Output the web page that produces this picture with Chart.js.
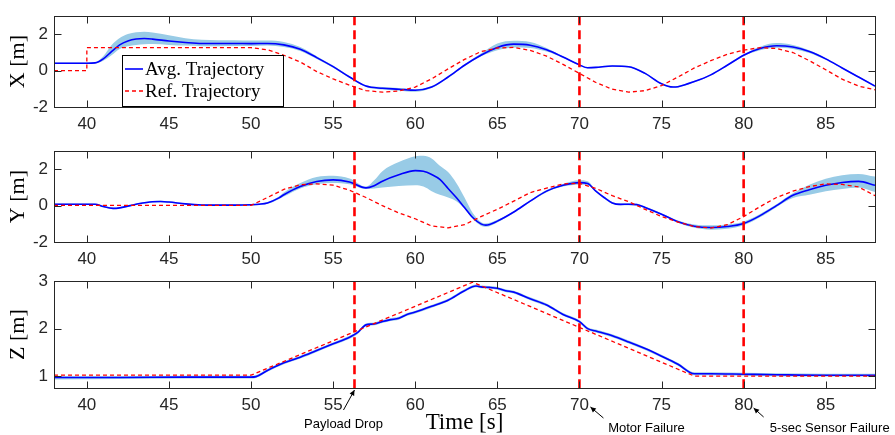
<!DOCTYPE html>
<html><head><meta charset="utf-8">
<script src="https://cdn.jsdelivr.net/npm/chart.js@4.4.1/dist/chart.umd.min.js"></script>
<style>
html,body{margin:0;padding:0;background:#fff;}
#wrap{position:relative;width:895px;height:435px;overflow:hidden;background:#fff;}
canvas{position:absolute;left:0;}
</style></head><body>
<div id="wrap">
<canvas id="cX" width="895" height="135" style="top:0px"></canvas>
<canvas id="cY" width="895" height="130" style="top:135px"></canvas>
<canvas id="cZ" width="895" height="170" style="top:265px"></canvas>
</div>
<script>
// ---------- DATA ----------
const seriesLabels = ['Avg. Trajectory', 'Ref. Trajectory'];
const axisTitles = ['X [m]', 'Y [m]', 'Z [m]'];
const timeTitle = 'Time [s]';
const timeTicks = [40, 45, 50, 55, 60, 65, 70, 75, 80, 85];
const xyTicks = [-2, 0, 2];
const zTicks = [1, 2, 3];
const eventTimes = [56.3, 70, 80];
const eventLabels = ['Payload Drop', 'Motor Failure', '5-sec Sensor Failure'];

// X panel
const xTime  = [38,40,40.5,41,41.5,42,42.5,43,43.5,44,45,46,47,48,49,50,51,52,53,54,55,56,57,58,59,60,61,62,63,64,65,66,67,68,69,70,70.5,71,72,73,74,75,75.7,76,77,78,79,80,81,82,83,84,85,86,87,88];
const xAvg   = [0.41,0.41,0.43,0.65,1.05,1.42,1.63,1.74,1.77,1.74,1.63,1.55,1.5,1.5,1.5,1.49,1.5,1.42,1.18,0.72,0.22,-0.35,-0.85,-0.97,-1.02,-1.08,-0.9,-0.35,0.3,0.85,1.28,1.46,1.4,1.15,0.75,0.32,0.16,0.18,0.26,0.22,-0.15,-0.72,-0.9,-0.88,-0.6,-0.23,0.3,0.85,1.22,1.37,1.3,1.05,0.65,0.15,-0.35,-0.85];
const xUpper = [0.45,0.45,0.47,0.8,1.4,1.8,2.02,2.12,2.15,2.1,1.95,1.78,1.7,1.68,1.68,1.66,1.66,1.58,1.3,0.8,0.28,-0.3,-0.8,-0.9,-0.95,-1.02,-0.85,-0.3,0.35,0.95,1.5,1.65,1.58,1.25,0.8,0.36,0.2,0.22,0.3,0.26,-0.11,-0.68,-0.86,-0.84,-0.56,-0.19,0.34,0.9,1.32,1.52,1.42,1.12,0.7,0.19,-0.31,-0.8];
const xLower = [0.37,0.37,0.39,0.55,0.85,1.2,1.35,1.42,1.45,1.47,1.42,1.38,1.35,1.35,1.36,1.36,1.38,1.3,1.08,0.64,0.16,-0.4,-0.9,-1.04,-1.1,-1.16,-0.96,-0.4,0.25,0.78,1.12,1.28,1.25,1.05,0.7,0.28,0.12,0.14,0.22,0.18,-0.19,-0.76,-0.94,-0.92,-0.64,-0.27,0.26,0.8,1.12,1.26,1.2,0.98,0.6,0.11,-0.39,-0.9];
const xRefTime = [38,40,40,50,51,52,53,54,55,56,57,58,59,60,61,62,63,64,65,66,67,68,69,70,71,72,73,74,75,76,77,78,79,80,81,82,83,84,85,86,87,88];
const xRef     = [0,0,1.27,1.27,1.15,0.85,0.48,-0.05,-0.45,-0.8,-1.1,-1.18,-1.12,-0.9,-0.45,0.1,0.62,1.05,1.25,1.28,1.12,0.8,0.35,-0.15,-0.65,-1.02,-1.18,-1.1,-0.82,-0.35,0.15,0.55,0.9,1.13,1.27,1.22,1.0,0.55,0.05,-0.47,-0.85,-1.05];

// Y panel
const yTime  = [38,40,40.5,41,41.6,42,43,44,44.5,45,46,47,48,49,50,50.5,51,51.7,52,53,54,55,56,57,57.5,58,59,60,60.5,61,61.5,62,62.5,63,63.5,64,64.3,65,66,67,68,69,70,70.5,71,71.5,72,72.5,73,73.5,74,75,76,77,78,79,80,81,82,83,84,85,86,87,88];
const yAvg   = [0.08,0.08,0.08,-0.05,-0.15,-0.12,0.08,0.22,0.23,0.2,0.1,0.04,0.03,0.03,0.05,0.08,0.15,0.43,0.6,1.05,1.33,1.42,1.3,0.98,1.1,1.35,1.7,1.93,1.9,1.72,1.45,0.95,0.45,-0.1,-0.65,-1.0,-1.07,-0.85,-0.35,0.25,0.8,1.12,1.27,1.22,0.8,0.45,0.15,0.07,0.08,0.06,-0.1,-0.47,-0.88,-1.13,-1.2,-1.15,-0.98,-0.55,0.0,0.57,0.88,1.12,1.28,1.34,1.12];
const yUpper = [0.12,0.12,0.12,-0.01,-0.11,-0.08,0.12,0.26,0.27,0.24,0.14,0.08,0.07,0.07,0.09,0.12,0.2,0.5,0.72,1.25,1.58,1.65,1.5,1.05,1.4,1.9,2.4,2.72,2.75,2.6,2.2,1.85,1.25,0.45,-0.4,-0.9,-0.98,-0.78,-0.3,0.3,0.86,1.2,1.4,1.35,0.85,0.5,0.2,0.12,0.13,0.11,-0.05,-0.42,-0.82,-1.04,-1.08,-1.03,-0.88,-0.46,0.08,0.68,1.15,1.48,1.68,1.75,1.6];
const yLower = [0.04,0.04,0.04,-0.09,-0.19,-0.16,0.04,0.18,0.19,0.16,0.06,0.0,-0.01,-0.01,0.01,0.04,0.1,0.36,0.5,0.95,1.18,1.25,1.18,0.92,0.95,1.0,1.08,1.12,1.05,0.8,0.6,0.45,0.25,-0.15,-0.72,-1.1,-1.16,-0.92,-0.4,0.2,0.74,1.05,1.15,1.12,0.75,0.4,0.1,0.02,0.03,0.01,-0.15,-0.52,-0.94,-1.22,-1.32,-1.27,-1.08,-0.64,-0.08,0.42,0.6,0.8,0.92,1.0,0.75];
const yRefTime = [38,50,51,52,53,54,55,56,57,58,59,60,61,62,63,64,65,66,67,68,69,70,71,72,73,74,75,76,77,78,79,80,81,82,83,84,85,86,87,88];
const yRef     = [0.02,0.02,0.45,0.9,1.15,1.2,1.13,0.85,0.45,0.0,-0.4,-0.72,-1.12,-1.22,-1.05,-0.6,-0.2,0.25,0.72,0.97,1.2,1.23,0.95,0.55,0.22,-0.2,-0.6,-0.9,-1.15,-1.23,-1.05,-0.6,-0.05,0.45,0.8,1.05,1.2,1.17,1.03,0.55];

// Z panel
const zTime  = [38,42,46,50,50.3,51,52,53,54,55,56,56.5,57,57.5,58,58.5,59,59.5,60,61,62,63,63.7,64,64.5,65,65.5,66,67,68,69,70,70.5,71,72,73,74,75,76,77,78,80,82,85,88];
const zAvg   = [0.97,0.97,0.98,0.98,0.99,1.12,1.28,1.4,1.54,1.68,1.82,1.92,2.08,2.1,2.15,2.19,2.22,2.3,2.35,2.47,2.6,2.8,2.9,2.88,2.87,2.85,2.8,2.77,2.63,2.5,2.3,2.15,2.0,1.95,1.85,1.72,1.58,1.42,1.25,1.05,1.05,1.04,1.03,1.02,1.02];
const zUpper = [1.0,1.0,1.01,1.01,1.02,1.15,1.31,1.43,1.57,1.71,1.85,1.95,2.11,2.13,2.18,2.22,2.25,2.33,2.38,2.5,2.63,2.83,2.93,2.91,2.9,2.88,2.83,2.8,2.66,2.53,2.33,2.18,2.03,1.98,1.88,1.75,1.61,1.45,1.28,1.08,1.08,1.07,1.06,1.05,1.05];
const zLower = [0.93,0.94,0.95,0.95,0.96,1.09,1.25,1.37,1.51,1.65,1.79,1.89,2.05,2.07,2.12,2.16,2.19,2.27,2.32,2.44,2.57,2.77,2.87,2.85,2.84,2.82,2.77,2.74,2.6,2.47,2.27,2.12,1.97,1.92,1.82,1.69,1.55,1.39,1.22,1.02,1.02,1.01,1.0,0.99,0.99];
const zRefTime = [38,50,63.5,77,88];
const zRef     = [1.02,1.02,2.98,1.0,1.0];

// ---------- STYLE ----------
const AXIS_COLOR = '#262626';
const BLUE = '#0000ff';
const RED = '#ff0000';
const BAND = 'rgb(152,203,230)';
const SANS = '"Liberation Sans", Arial, Helvetica, sans-serif';
const SERIF = '"Liberation Serif", "Times New Roman", serif';

function pts(t, v) { return t.map((x, i) => ({x: x, y: v[i]})); }

const framePlugin = {
  id: 'frameTicks',
  afterDatasetsDraw(chart) {
    const ctx = chart.ctx, a = chart.chartArea;
    const xs = chart.scales.x;
    ctx.save();
    ctx.beginPath(); ctx.rect(a.left, a.top - 1, a.right - a.left, a.bottom - a.top + 2); ctx.clip();
    ctx.strokeStyle = RED; ctx.lineWidth = 2.6; ctx.setLineDash([9, 5]);
    eventTimes.forEach(t => {
      const px = xs.getPixelForValue(t);
      ctx.beginPath(); ctx.moveTo(px, a.top); ctx.lineTo(px, a.bottom); ctx.stroke();
    });
    ctx.restore();
  },
  afterDraw(chart) {
    const ctx = chart.ctx, a = chart.chartArea;
    const xs = chart.scales.x, ys = chart.scales.y;
    const L = Math.round(a.left) + 0.5, R = Math.round(a.right) + 0.5;
    const T = Math.round(a.top) + 0.5, B = Math.round(a.bottom) + 0.5;
    ctx.save();
    ctx.strokeStyle = AXIS_COLOR; ctx.lineWidth = 1; ctx.setLineDash([]);
    ctx.strokeRect(L, T, R - L, B - T);
    const tl = 7;
    ctx.beginPath();
    xs.ticks.forEach(tk => {
      const px = Math.round(xs.getPixelForValue(tk.value)) + 0.5;
      ctx.moveTo(px, B); ctx.lineTo(px, B - tl);
      ctx.moveTo(px, T); ctx.lineTo(px, T + tl);
    });
    ys.ticks.forEach(tk => {
      const py = Math.round(ys.getPixelForValue(tk.value)) + 0.5;
      ctx.moveTo(L, py); ctx.lineTo(L + tl, py);
      ctx.moveTo(R, py); ctx.lineTo(R - tl, py);
    });
    ctx.stroke();
    ctx.restore();
  }
};

const legendPlugin = {
  id: 'boxLegend',
  afterDraw(chart) {
    const ctx = chart.ctx;
    const x0 = 122, y0 = 55, w = 161, h = 51;
    ctx.save();
    ctx.fillStyle = '#fff'; ctx.fillRect(x0, y0, w, h);
    ctx.strokeStyle = '#000'; ctx.lineWidth = 1; ctx.strokeRect(x0 + 0.5, y0 + 0.5, w, h);
    const items = [chart.data.datasets[1], chart.data.datasets[0]];
    const rows = [69, 91];
    items.forEach((ds, i) => {
      ctx.strokeStyle = ds.borderColor; ctx.lineWidth = ds.borderWidth;
      ctx.setLineDash(ds.borderDash || []);
      ctx.beginPath(); ctx.moveTo(x0 + 3, rows[i]); ctx.lineTo(x0 + 21, rows[i]); ctx.stroke();
      ctx.setLineDash([]);
      ctx.fillStyle = '#000'; ctx.font = '19px ' + SERIF;
      ctx.textBaseline = 'middle'; ctx.textAlign = 'left';
      ctx.fillText(ds.label, x0 + 23, rows[i] + 1);
    });
    ctx.restore();
  }
};

const annotPlugin = {
  id: 'eventNotes',
  afterDraw(chart) {
    const ctx = chart.ctx, a = chart.chartArea, xs = chart.scales.x;
    const geo = [
      {hx: 0, hy: 2, tx: -11, ty: 22, cx: -11, cy: 36},
      {hx: 11, hy: 19, tx: 24, ty: 30, cx: 67, cy: 40},
      {hx: 10, hy: 20, tx: 20, ty: 29, cx: 86, cy: 40}
    ];
    ctx.save();
    eventTimes.forEach((t, i) => {
      const px = xs.getPixelForValue(t), g = geo[i], b = a.bottom;
      const hx = px + g.hx, hy = b + g.hy, tx = px + g.tx, ty = b + g.ty;
      ctx.strokeStyle = '#000'; ctx.fillStyle = '#000'; ctx.lineWidth = 1;
      ctx.beginPath(); ctx.moveTo(tx, ty); ctx.lineTo(hx, hy); ctx.stroke();
      const ang = Math.atan2(hy - ty, hx - tx), s = 6;
      ctx.beginPath();
      ctx.moveTo(hx, hy);
      ctx.lineTo(hx - s * Math.cos(ang - 0.45), hy - s * Math.sin(ang - 0.45));
      ctx.lineTo(hx - s * Math.cos(ang + 0.45), hy - s * Math.sin(ang + 0.45));
      ctx.closePath(); ctx.fill();
      ctx.font = '13px ' + SANS; ctx.textAlign = 'center'; ctx.textBaseline = 'middle';
      ctx.fillText(eventLabels[i], px + g.cx, b + g.cy);
    });
    ctx.restore();
  }
};

function makeChart(id, cfg) {
  const datasets = [
    {label: seriesLabels[1], data: pts(cfg.refT, cfg.ref), borderColor: RED, borderWidth: 1.3, borderDash: [4, 3], pointRadius: 0, tension: 0, fill: false},
    {label: seriesLabels[0], data: pts(cfg.t, cfg.avg), borderColor: BLUE, borderWidth: 1.6, pointRadius: 0, cubicInterpolationMode: 'monotone', fill: false},
    {label: 'lower', data: pts(cfg.t, cfg.lower), borderWidth: 0, borderColor: 'rgba(0,0,0,0)', pointRadius: 0, cubicInterpolationMode: 'monotone', fill: false},
    {label: 'upper', data: pts(cfg.t, cfg.upper), borderWidth: 0, borderColor: 'rgba(0,0,0,0)', backgroundColor: BAND, pointRadius: 0, cubicInterpolationMode: 'monotone', fill: '-1'}
  ];
  const plugins = [framePlugin];
  if (cfg.legend) plugins.push(legendPlugin);
  if (cfg.notes) plugins.push(annotPlugin);
  return new Chart(document.getElementById(id), {
    type: 'line',
    data: {datasets},
    plugins,
    options: {
      responsive: false, animation: false, events: [],
      layout: {padding: {top: cfg.padTop, right: 20, left: 0, bottom: 0}},
      plugins: {legend: {display: false}, tooltip: {enabled: false}},
      scales: {
        x: {
          type: 'linear', min: 38, max: 88,
          grid: {display: false, drawTicks: false}, border: {display: false},
          ticks: {padding: 7, color: AXIS_COLOR, font: {family: SANS, size: 17}},
          afterBuildTicks: s => { s.ticks = timeTicks.map(v => ({value: v})); },
          title: cfg.notes ? {display: true, text: timeTitle, color: '#000', font: {family: SERIF, size: 23, lineHeight: 1.0}, padding: {top: 0, bottom: 1}} : {display: false},
          afterFit: s => { s.height = cfg.xH; }
        },
        y: {
          type: 'linear', min: cfg.ymin, max: cfg.ymax,
          grid: {display: false, drawTicks: false}, border: {display: false},
          ticks: {padding: 6, color: AXIS_COLOR, font: {family: SANS, size: 17}},
          afterBuildTicks: s => { s.ticks = cfg.yticks.map(v => ({value: v})); },
          title: {display: true, text: cfg.title, color: '#000', font: {family: SERIF, size: 22}, padding: {top: 5, bottom: 0}},
          afterFit: s => { s.width = 54; }
        }
      }
    }
  });
}

makeChart('cX', {t: xTime, avg: xAvg, upper: xUpper, lower: xLower, refT: xRefTime, ref: xRef,
  ymin: -2, ymax: 3, yticks: xyTicks, title: axisTitles[0], padTop: 6, xH: 28, legend: true});
makeChart('cY', {t: yTime, avg: yAvg, upper: yUpper, lower: yLower, refT: yRefTime, ref: yRef,
  ymin: -2, ymax: 3, yticks: xyTicks, title: axisTitles[1], padTop: 8, xH: 23});
makeChart('cZ', {t: zTime, avg: zAvg, upper: zUpper, lower: zLower, refT: zRefTime, ref: zRef,
  ymin: 0.75, ymax: 3, yticks: zTicks, title: axisTitles[2], padTop: 15, xH: 47, notes: true});
</script>
</body></html>
